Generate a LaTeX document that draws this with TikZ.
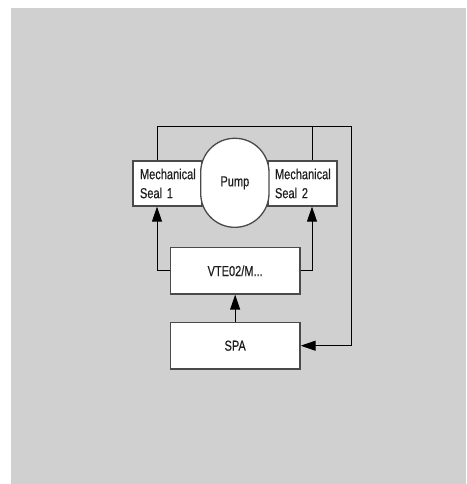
\documentclass[tikz,border=0pt]{standalone}
\usepackage{fontspec}
\setmainfont[FakeStretch=0.76,FakeBold=0.4]{Liberation Sans}
\usetikzlibrary{arrows.meta}
\definecolor{bggray}{HTML}{CFD0CF}
\definecolor{boxline}{HTML}{4A4A4A}
\definecolor{txt}{HTML}{1E1E1E}
\tikzset{
  blk/.style={draw=boxline, line width=1.3pt, fill=white, text=txt,
    font=\fontsize{14.5}{19}\selectfont, inner sep=0pt},
  sealbox/.style={blk, minimum width=69pt, minimum height=45pt,
    text width=55pt, align=left, inner xsep=7pt},
  wide/.style={blk, minimum width=129.7pt, minimum height=46.3pt},
  conn/.style={draw=black, line width=1pt},
  arr/.style={conn, -{Triangle[length=15pt,width=10pt]}}
}
\begin{document}
\begin{tikzpicture}[x=1pt,y=-1pt]
\useasboundingbox (0,0) rectangle (466,484);
\fill[bggray] (11,8) rectangle (466,484);
\node[sealbox] (seal1) at (167.5,183.5) {Mechanical\\Seal 1};
\node[sealbox] (seal2) at (302.5,183.5) {Mechanical\\Seal 2};
\node[blk, minimum width=68.3pt, minimum height=89pt, rounded corners=34pt] (pump) at (234.85,182.8) {Pump};
\node[wide] (vte) at (235.15,270.85) {VTE02/M...};
\node[wide] (spa) at (235.15,345.7) {SPA};
\coordinate (lx) at (157,0);
\coordinate (rx) at (312,0);
\coordinate (tp) at (351.7,126);
\draw[arr] (vte.west) -| (seal1.south -| lx);
\draw[arr] (vte.east) -| (seal2.south -| rx);
\draw[arr] (spa.north) -- (vte.south);
\draw[arr] (seal1.north -| lx) -- (lx |- tp) -- (tp) -- (tp |- spa.east) -- (spa.east);
\draw[conn] (seal2.north -| rx) -- (rx |- tp);
\end{tikzpicture}
\end{document}
